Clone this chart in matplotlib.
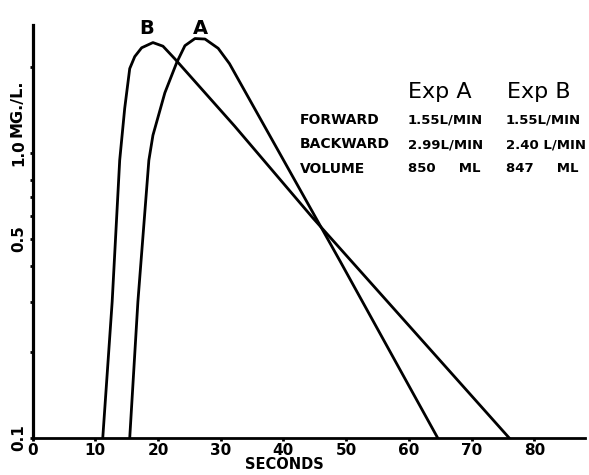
import numpy as np
import matplotlib.pyplot as plt
from matplotlib.ticker import FixedLocator, NullFormatter

# Dye curve readings (seconds, mg/L)
b_sec = [11.2, 12.7, 13.9, 14.7, 15.5, 16.3, 17.4, 19.2, 20.8, 22.7, 32.2, 44.7, 76.0]
b_conc = [0.10, 0.30, 0.94, 1.43, 1.97, 2.17, 2.33, 2.43, 2.36, 2.13, 1.24, 0.59, 0.10]

a_sec = [15.5, 16.8, 18.55, 19.2, 21.1, 23.0, 24.3, 25.9, 27.5, 29.6, 31.4, 49.0, 64.6]
a_conc = [0.10, 0.30, 0.94, 1.15, 1.62, 2.07, 2.37, 2.51, 2.50, 2.32, 2.05, 0.418, 0.10]

x_ticks = [0, 10, 20, 30, 40, 50, 60, 70, 80]
y_major = [0.1, 0.5, 1.0]
y_minor = [0.2, 0.3, 0.4, 0.6, 0.7, 0.8, 2.0]

row_labels = ["FORWARD", "BACKWARD", "VOLUME"]
exp_a = ["1.55L/MIN", "2.99L/MIN", "850     ML"]
exp_b = ["1.55L/MIN", "2.40 L/MIN", "847     ML"]

W, H = 589, 475


def main():
    fig = plt.figure(figsize=(W / 100, H / 100), dpi=100)
    ax = fig.add_axes([32.5 / W, 1 - 438 / H, 552 / W, 413 / H])

    ax.plot(b_sec, b_conc, color="black", lw=2.0, solid_joinstyle="round")
    ax.plot(a_sec, a_conc, color="black", lw=2.0, solid_joinstyle="round")

    ax.set_yscale("log")
    ax.set_xlim(0, 88)
    ax.set_ylim(0.1, 2.8)

    for s in ["top", "right"]:
        ax.spines[s].set_visible(False)
    ax.spines["left"].set_linewidth(2.3)
    ax.spines["bottom"].set_linewidth(2.0)

    ax.set_xticks(x_ticks)
    ax.set_xticklabels([str(t) for t in x_ticks], fontsize=11, fontweight="bold")
    ax.tick_params(axis="x", direction="out", length=2.5, width=2, pad=1)

    ax.yaxis.set_major_locator(FixedLocator(y_major))
    ax.yaxis.set_minor_locator(FixedLocator(y_minor))
    ax.yaxis.set_minor_formatter(NullFormatter())
    ax.set_yticklabels(["0.1", "0.5", "1.0"], fontsize=11, fontweight="bold",
                       rotation=90, va="center")
    ax.tick_params(axis="y", which="both", direction="out", length=2.5, width=2, pad=2)

    ax.text(-0.028, 1.13, "MG./L.", transform=ax.get_yaxis_transform(),
            rotation=90, ha="center", va="bottom", fontsize=11.5, fontweight="bold")

    ax.set_xlabel("SECONDS", fontsize=10.5, fontweight="bold")
    ax.xaxis.set_label_coords(0.457, -0.045)

    # curve letters above the peaks
    ax.text(18.2, 2.72, "B", ha="center", va="center", fontsize=14,
            fontweight="bold", clip_on=False)
    ax.text(26.7, 2.72, "A", ha="center", va="center", fontsize=14,
            fontweight="bold", clip_on=False)

    # experiment table
    fig.text(408 / W, 1 - 92 / H, "Exp A", fontsize=16, ha="left", va="center")
    fig.text(507 / W, 1 - 92 / H, "Exp B", fontsize=16, ha="left", va="center")
    for i, lab in enumerate(row_labels):
        yy = 1 - (120 + 24.5 * i) / H
        fig.text(300 / W, yy, lab, fontsize=10, fontweight="bold", va="center")
        fig.text(408 / W, yy, exp_a[i], fontsize=9.5, fontweight="bold", va="center")
        fig.text(506 / W, yy, exp_b[i], fontsize=9.5, fontweight="bold", va="center")

    fig.savefig("out.png", dpi=100)


if __name__ == "__main__":
    main()
